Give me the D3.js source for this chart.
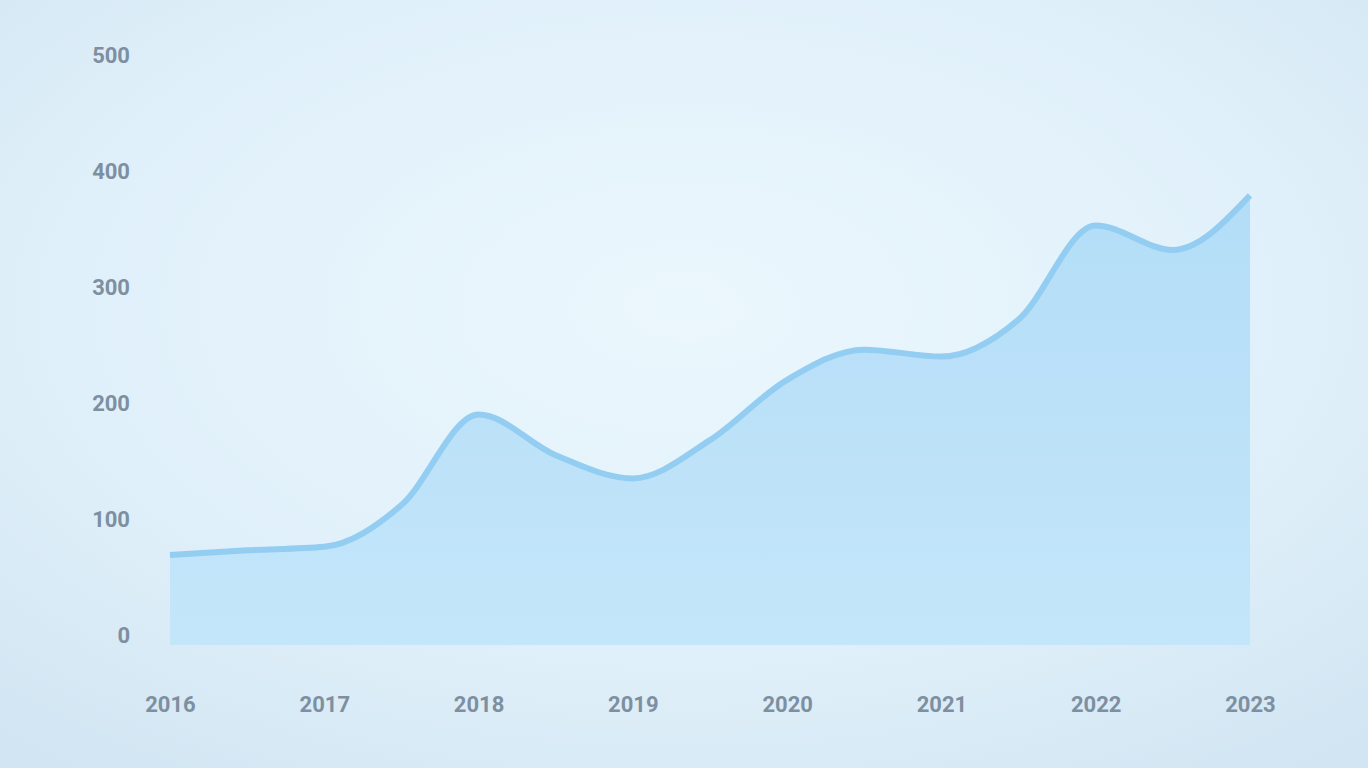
<!DOCTYPE html>
<html>
<head>
<meta charset="utf-8">
<script src="https://cdn.jsdelivr.net/npm/d3@7/dist/d3.min.js"></script>
<style>
  html, body { margin: 0; padding: 0; width: 1368px; height: 768px; overflow: hidden; }
  svg { display: block; }
</style>
</head>
<body>
<svg id="chart" width="1368" height="768"></svg>
<script>
// ---- data ----
const categories = ["2016", "2017", "2018", "2019", "2020", "2021", "2022", "2023"];
const pointLabels = ["2016", "2016.5", "2017", "2017.5", "2018", "2018.5", "2019", "2019.5",
                     "2020", "2020.5", "2021", "2021.5", "2022", "2022.5", "2023"];
const values = [69, 73, 76, 112, 190, 155, 135, 168, 220, 246, 240, 272, 353, 332, 379];
const yTicks = [0, 100, 200, 300, 400, 500];

// ---- layout ----
const W = 1368, H = 768;
const margin = { left: 170, right: 118, top: 55, bottom: 133 };
const svg = d3.select("#chart");

const defs = svg.append("defs");
const bg = defs.append("radialGradient").attr("id", "bg")
  .attr("cx", "50%").attr("cy", "40%").attr("r", "75%");
bg.append("stop").attr("offset", "0%").attr("stop-color", "#ebf7fd");
bg.append("stop").attr("offset", "60%").attr("stop-color", "#e0f0fa");
bg.append("stop").attr("offset", "100%").attr("stop-color", "#d1e5f2");

const areaGrad = defs.append("linearGradient").attr("id", "areaGrad")
  .attr("x1", 0).attr("y1", 0).attr("x2", 0).attr("y2", 1);
areaGrad.append("stop").attr("offset", "0%").attr("stop-color", "#b3ddf7");
areaGrad.append("stop").attr("offset", "100%").attr("stop-color", "#c4e6fa");

svg.append("rect").attr("width", W).attr("height", H).attr("fill", "url(#bg)");

const x = d3.scalePoint().domain(pointLabels).range([margin.left, W - margin.right]);
const xCat = d3.scalePoint().domain(categories).range([margin.left, W - margin.right]);
const y = d3.scaleLinear().domain([0, 500]).range([H - margin.bottom, margin.top]);

const data = pointLabels.map((p, i) => ({ p, v: values[i] }));

const area = d3.area()
  .x(d => x(d.p)).y0(y(0) + 10).y1(d => y(d.v))
  .curve(d3.curveMonotoneX);
const line = d3.line()
  .x(d => x(d.p)).y(d => y(d.v))
  .curve(d3.curveMonotoneX);

svg.append("path").datum(data).attr("d", area).attr("fill", "url(#areaGrad)");
svg.append("path").datum(data).attr("d", line)
  .attr("fill", "none").attr("stroke", "#93cdf1").attr("stroke-width", 6)
  .attr("stroke-linejoin", "round");

// y axis
const yAxis = d3.axisLeft(y).tickValues(yTicks).tickSize(0).tickPadding(0);
const gy = svg.append("g").attr("transform", `translate(130,0)`).call(yAxis);
gy.select(".domain").remove();
gy.selectAll("text").attr("fill", "#7d8fa0").style("font-family", "Roboto, sans-serif")
  .style("font-size", "22px").style("font-weight", "bold");

// x axis
const xAxis = d3.axisBottom(xCat).tickSize(0).tickPadding(0);
const gx = svg.append("g").attr("transform", `translate(0,${H - 72})`).call(xAxis);
gx.select(".domain").remove();
gx.selectAll("text").attr("fill", "#7d8fa0").style("font-family", "Roboto, sans-serif")
  .style("font-size", "22px").style("font-weight", "bold");
</script>
</body>
</html>
